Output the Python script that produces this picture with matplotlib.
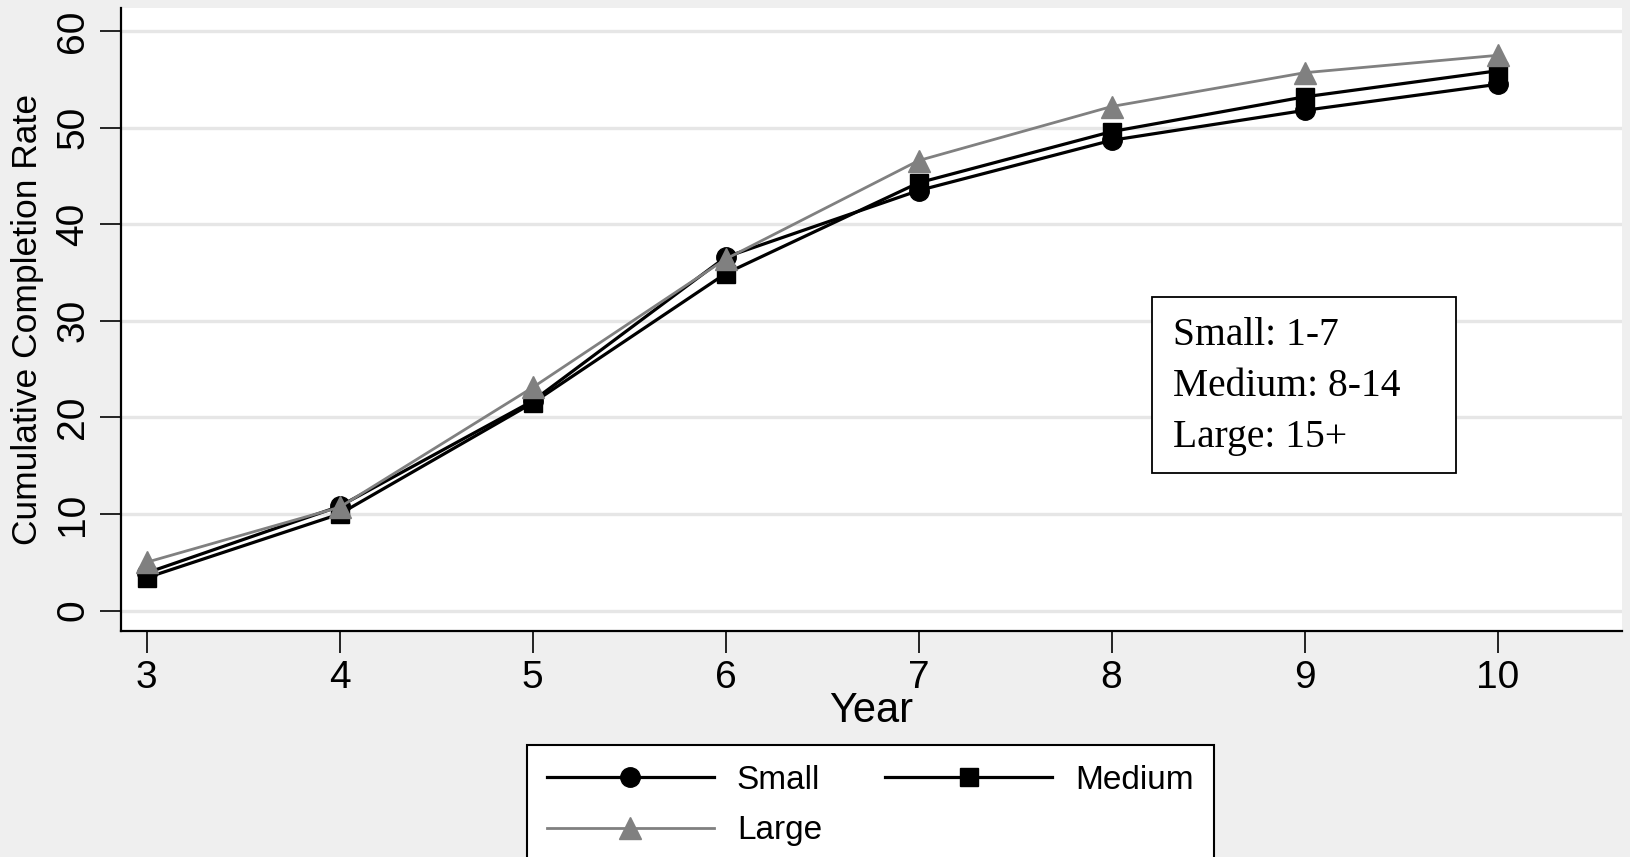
import matplotlib
matplotlib.use("Agg")
import matplotlib.pyplot as plt
from matplotlib.patches import Rectangle

years = [3, 4, 5, 6, 7, 8, 9, 10]
small = [3.9, 10.8, 21.7, 36.6, 43.5, 48.7, 51.8, 54.5]
medium = [3.4, 10.0, 21.5, 34.9, 44.3, 49.6, 53.2, 55.9]
large = [5.0, 10.7, 23.1, 36.4, 46.6, 52.2, 55.7, 57.5]
yticks = [0, 10, 20, 30, 40, 50, 60]
note_lines = ["Small: 1-7", "Medium: 8-14", "Large: 15+"]

plt.rcParams["font.family"] = ["Liberation Sans", "DejaVu Sans"]

bg = "#efefef"
fig = plt.figure(figsize=(16.3, 8.57), dpi=100, facecolor=bg)
ax = fig.add_axes([0.074, 0.2637, 0.921, 0.7266])
ax.set_facecolor("white")

for yv in yticks:
    ax.axhline(yv, color="#e6e6e6", linewidth=2.4, zorder=0)

l1, = ax.plot(years, small, color="black", linewidth=2.3, marker="o", markersize=14, label="Small", zorder=3)
l2, = ax.plot(years, medium, color="black", linewidth=2.3, marker="s", markersize=13, label="Medium", zorder=3)
l3, = ax.plot(years, large, color="#808080", linewidth=2.0, marker="^", markersize=16, label="Large", zorder=4)

ax.set_xlim(2.865, 10.644)
ax.set_ylim(-2.12, 62.37)
ax.set_xticks(years)
ax.set_yticks(yticks)
ax.tick_params(axis="x", labelsize=28, length=16, width=1.2, pad=5)
ax.tick_params(axis="y", labelsize=28, length=15, width=1.2, pad=6, labelrotation=90)
for lab in ax.get_yticklabels():
    lab.set_va("center")
ax.set_xlabel("Year", fontsize=30, labelpad=-4)
ax.set_ylabel("Cumulative Completion Rate", fontsize=25.5, labelpad=8)

for side in ["top", "right"]:
    ax.spines[side].set_visible(False)
for side in ["left", "bottom"]:
    ax.spines[side].set_linewidth(1.6)

ax.add_patch(Rectangle((0.687, 0.2537), 0.2024, 0.2827, transform=ax.transAxes,
                       facecolor="white", edgecolor="black", linewidth=1.3, zorder=5))
for i, t in enumerate(note_lines):
    ax.text(0.701, 0.4753 - i * 0.0819, t, transform=ax.transAxes, fontsize=28.5,
            family=["Liberation Serif"], va="center", ha="left", zorder=6)

# row-wise order: Small, Medium / Large
leg = fig.legend([l1, l3, l2], ["Small", "Large", "Medium"], loc="upper center",
                 bbox_to_anchor=(0.534, 0.150), ncol=2, fontsize=24,
                 handlelength=5.0, handletextpad=0.7, columnspacing=1.9, labelspacing=0.58,
                 borderpad=0.6, fancybox=False, edgecolor="black", framealpha=1)
leg.get_frame().set_linewidth(1.5)

fig.savefig("out.png", dpi=100, facecolor=bg)
